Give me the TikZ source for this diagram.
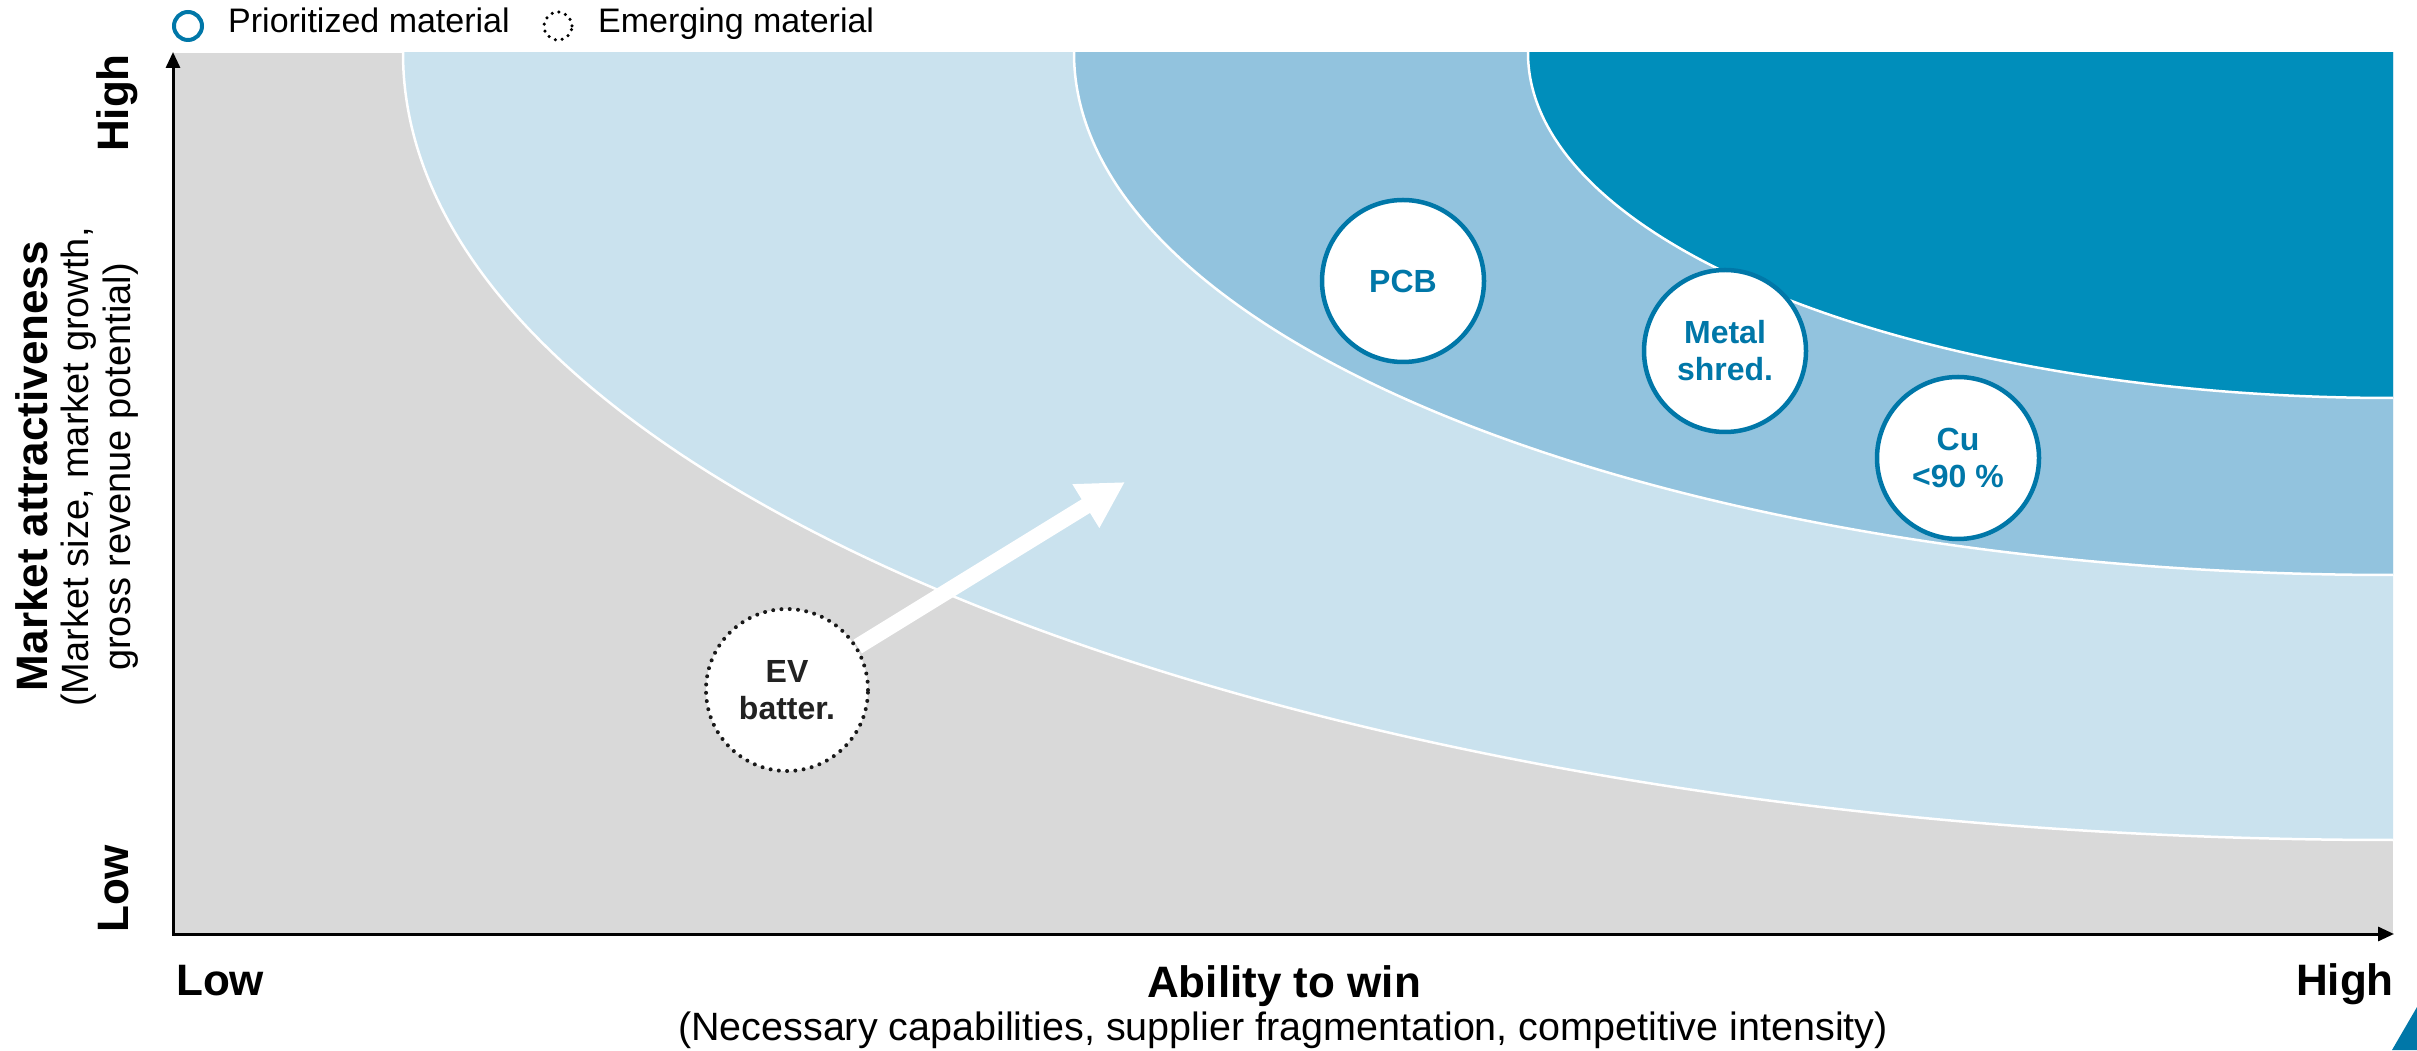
\documentclass[tikz,border=0pt]{standalone}
\usepackage{fontspec}
\setmainfont{Liberation Sans}
\usetikzlibrary{positioning,arrows.meta,backgrounds}
\definecolor{greyzone}{HTML}{D9D9D9}
\definecolor{lightzone}{HTML}{CAE2EE}
\definecolor{midzone}{HTML}{92C3DE}
\definecolor{darkzone}{HTML}{008EBB}
\definecolor{prioblue}{HTML}{0077A8}
\definecolor{evtext}{HTML}{222222}

\tikzset{
  bubble/.style={circle, draw=prioblue, line width=4.5, fill=white, minimum size=162, inner sep=0,
    align=center, text=prioblue, font=\fontsize{32}{37}\selectfont\bfseries},
  emerging/.style={bubble, draw=black!90, line width=4, dash pattern=on 0pt off 8.3pt,
    line cap=round, text=evtext},
  ring/.style={circle, draw=prioblue, line width=4, minimum size=28, inner sep=0},
  dotring/.style={ring, draw=black, line width=3.5, dash pattern=on 0pt off 7pt, line cap=round},
  legendtext/.style={inner sep=0, font=\fontsize{34}{38}\selectfont},
  boldlabel/.style={inner sep=0, font=\fontsize{44}{50}\selectfont\bfseries},
  sublabel/.style={inner sep=0, font=\fontsize{38}{42}\selectfont},
  axis/.style={line width=3, {Triangle[length=16pt,width=14pt]}-{Triangle[length=16pt,width=14pt]}},
  growth/.style={white, line width=16, -{Triangle[length=46pt,width=48pt]}}
}

\begin{document}
\begin{tikzpicture}[x=1pt,y=1pt]
      \useasboundingbox (0,0) rectangle (2417,1050);

      % zones
      \begin{scope}[on background layer]
        \clip (173,116) rectangle (2393,997);
        \fill[greyzone] (173,116) rectangle (2393,997);
        \filldraw[fill=lightzone, draw=white, line width=2.5] (2393,997) ellipse [x radius=1990, y radius=787];
        \filldraw[fill=midzone, draw=white, line width=2.5] (2393,997) ellipse [x radius=1319, y radius=522];
        \filldraw[fill=darkzone, draw=white, line width=2.5] (2393,997) ellipse [x radius=865, y radius=345];
      \end{scope}

      % axes
      \coordinate (origin) at (173,116);
      \coordinate (ytip) at (173,998);
      \coordinate (xtip) at (2394,116);
      \draw[axis] (ytip) -- (origin) -- (xtip);

      % materials
      \node[bubble] (pcb) at (1403,769) {PCB};
      \node[bubble] (shred) at (1725,699) {Metal\\shred.};
      \node[bubble] (cu) at (1958,592) {Cu\\<90 \%};
      \node[emerging] (ev) at (787,360) {EV\\batter.};
      \coordinate (evtip) at (1125,568);
      \begin{scope}[on background layer]
        \draw[growth] (ev) -- (evtip);
      \end{scope}

      % legend
      \node[ring] (prio) at (188,1024) {};
      \node[legendtext, anchor=base west] (priotext) at (228,1017) {Prioritized material};
      \node[dotring] (emer) at (558,1024) {};
      \node[legendtext, anchor=base west] (emertext) at (598,1017) {Emerging material};

      % axis labels
      \node[boldlabel, anchor=base] (ability) at (1284,53) {Ability to win};
      \node[sublabel, anchor=base, font=\fontsize{39.5}{42}\selectfont] (abilitynote) at (1283,10) {(Necessary capabilities, supplier fragmentation, competitive intensity)};
      \node[boldlabel, anchor=base west] (xlow) at (176,55) {Low};
      \node[boldlabel, anchor=base east] (xhigh) at (2394,55) {High};
      \node[boldlabel, rotate=90, anchor=base west] (ylow) at (128,117) {Low};
      \node[boldlabel, rotate=90, anchor=base east] (yhigh) at (128,996) {High};
      \node[boldlabel, rotate=90, anchor=base] (market) at (47,584) {Market attractiveness};
      \node[sublabel, rotate=90, anchor=base] (marketnote) at (88,583) {(Market size, market growth,};
      \node[sublabel, rotate=90, anchor=base] (marketnote2) at (130,583) {gross revenue potential)};

      \fill[prioblue] (2392,0) -- (2417,43) -- (2417,0) -- cycle;
    \end{tikzpicture}
\end{document}
